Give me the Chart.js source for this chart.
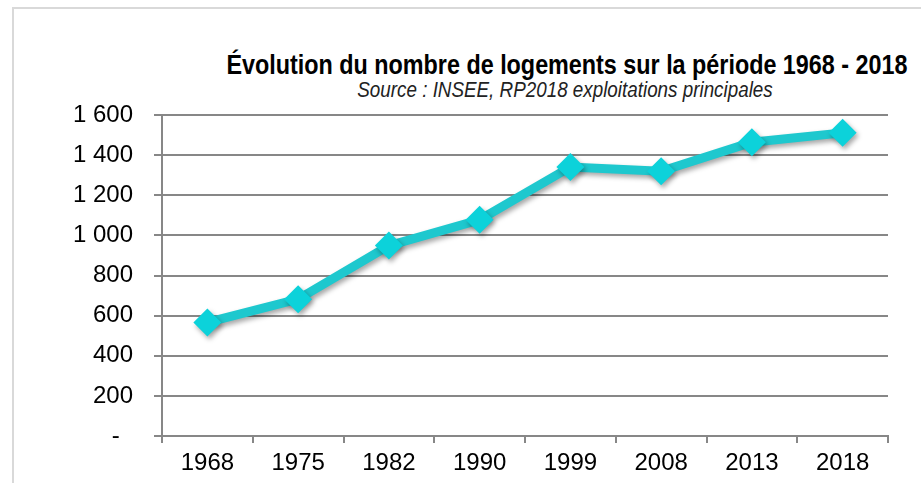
<!DOCTYPE html>
<html>
<head>
<meta charset="utf-8">
<script src="https://cdn.jsdelivr.net/npm/chart.js@4.4.1/dist/chart.umd.min.js"></script>
<style>
    html, body { margin: 0; padding: 0; background: #fff; overflow: hidden; }
    #wrap { position: relative; width: 921px; height: 483px; }
    #frame {
        position: absolute; left: 12px; top: 7px; width: 920px; height: 490px;
        border-left: 2px solid #d9d9d9; border-top: 2px solid #d9d9d9;
    }
    .ttl {
        position: absolute; white-space: nowrap; transform: translateX(-50%);
        font-family: "Liberation Sans", Arial, sans-serif;
        color: #000; line-height: 1;
    }
    #title { left: 567px; top: 51px; font-size: 28px; font-weight: bold; }
    #subtitle { left: 565px; top: 79px; font-size: 22px; font-style: italic; color: #222; }
    canvas { position: absolute; left: 0; top: 0; }
</style>
</head>
<body>
<div id="wrap">
    <div id="frame"></div>
    <div class="ttl" id="title" data-w="681">Évolution du nombre de logements sur la période 1968 - 2018</div>
    <div class="ttl" id="subtitle" data-w="415">Source : INSEE, RP2018 exploitations principales</div>
    <canvas id="myChart" width="921" height="483"></canvas>
</div>
<script>
const years = ['1968', '1975', '1982', '1990', '1999', '2008', '2013', '2018'];
const logements = [566, 682, 949, 1078, 1341, 1320, 1464, 1511];
const yTicks = [0, 200, 400, 600, 800, 1000, 1200, 1400, 1600];

// police condensée (type Arial Narrow) : on resserre le texte horizontalement
function narrowText(el) {
    const natural = el.offsetWidth;
    const k = Number(el.dataset.w) / natural;
    el.style.transform = 'translateX(-50%) scaleX(' + k + ')';
}
document.querySelectorAll('.ttl').forEach(narrowText);

function formatTick(value) {
    if (value === 0) {
        return '-\u2007';
    }
    // séparateur de milliers : espace
    return String(value).replace(/\B(?=(\d{3})+(?!\d))/g, ' ');
}

// ombre légère sous la courbe, comme dans Excel
const shadowPlugin = {
    id: 'shadow',
    beforeDatasetDraw(chart) {
        const c = chart.ctx;
        c.save();
        c.shadowColor = 'rgba(0,0,0,0.35)';
        c.shadowBlur = 5;
        c.shadowOffsetX = 2;
        c.shadowOffsetY = 3;
    },
    afterDatasetDraw(chart) {
        chart.ctx.restore();
    }
};

const ctx = document.getElementById('myChart').getContext('2d');
const myChart = new Chart(ctx,
    {
        type: 'line',
        data: {
            labels: years,
            datasets: [
                {
                    label: 'Logements',
                    data: logements,
                    borderColor: '#1ec8ce',
                    backgroundColor: '#0cd2da',
                    borderWidth: 9,
                    pointStyle: 'rectRot',
                    pointRadius: 14,
                    pointHoverRadius: 14,
                    pointBorderWidth: 0,
                    tension: 0
                }
            ]
        },
        plugins: [shadowPlugin],
        options: {
            responsive: false,
            animation: false,
            layout: {
                padding: { left: 0, right: 33, top: 115, bottom: 0 }
            },
            plugins: {
                legend: { display: false },
                tooltip: { enabled: false }
            },
            scales: {
                x: {
                    type: 'category',
                    offset: true,
                    grid: {
                        offset: true,
                        drawOnChartArea: false,
                        drawTicks: true,
                        tickLength: 7,
                        color: '#878787',
                        lineWidth: 2
                    },
                    border: { color: '#878787', width: 2 },
                    ticks: {
                        color: '#000',
                        padding: 6,
                        maxRotation: 0,
                        font: { family: 'Liberation Sans', size: 24 }
                    },
                    afterFit(scale) { scale.height = 47; }
                },
                y: {
                    min: 0,
                    max: 1600,
                    afterBuildTicks(scale) {
                        scale.ticks = yTicks.map(v => ({ value: v }));
                    },
                    grid: {
                        color: '#878787',
                        lineWidth: 2,
                        tickLength: 8
                    },
                    border: { color: '#878787', width: 2 },
                    ticks: {
                        color: '#000',
                        padding: 21,
                        font: { family: 'Liberation Sans', size: 24 },
                        callback: formatTick
                    },
                    afterFit(scale) { scale.width = 162; }
                }
            }
        }
    }
);
</script>
</body>
</html>
